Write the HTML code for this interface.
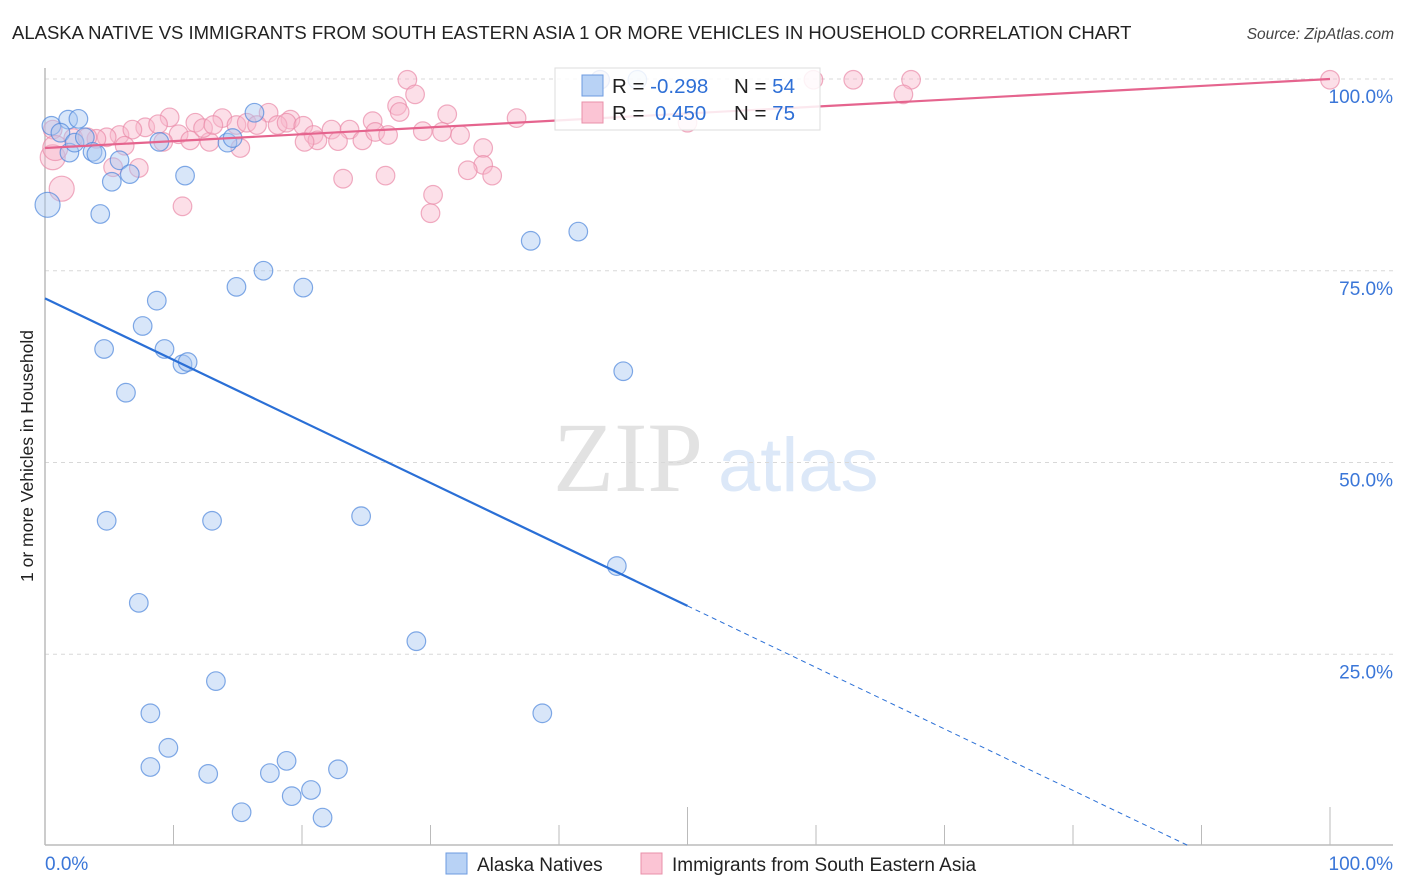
<!DOCTYPE html>
<html><head><meta charset="utf-8">
<style>
body{margin:0;background:#fff;width:1406px;height:892px;overflow:hidden;font-family:"Liberation Sans",sans-serif;}
svg{position:absolute;left:0;top:0;}
</style></head>
<body>
<svg id="chart" width="1406" height="892">
  <text x="12" y="39" font-size="18.5" fill="#222">ALASKA NATIVE VS IMMIGRANTS FROM SOUTH EASTERN ASIA 1 OR MORE VEHICLES IN HOUSEHOLD CORRELATION CHART</text>
  <text x="1394" y="39" font-size="15.5" fill="#444" font-style="italic" text-anchor="end">Source: ZipAtlas.com</text>
  <g>
    <text x="553" y="491" font-family="Liberation Serif,serif" font-size="100" fill="#e2e2e2">ZIP</text>
    <text x="718" y="491" font-size="76" fill="#dce8f8">atlas</text>
  </g>
  <g id="grid"></g>
  <g id="axes"></g>
  <g id="marks"></g>
  <text transform="translate(33,456) rotate(-90)" font-size="17.5" fill="#222" text-anchor="middle">1 or more Vehicles in Household</text>
  <g>
    <rect x="555" y="68" width="265" height="62" fill="#fff" fill-opacity="0.85" stroke="#ddd"/>
    <rect x="582" y="75" width="21" height="21" fill="#b8d2f5" stroke="#6d9be0"/>
    <rect x="582" y="102" width="21" height="21" fill="#fbc4d4" stroke="#e890aa"/>
    <text x="612" y="93" font-size="20.5" fill="#222">R = <tspan fill="#2e6fd6">-0.298</tspan><tspan x="734">N = </tspan><tspan fill="#2e6fd6">54</tspan></text>
    <text x="612" y="120" font-size="20.5" fill="#222">R = <tspan fill="#2e6fd6" x="655">0.450</tspan><tspan x="734">N = </tspan><tspan fill="#2e6fd6">75</tspan></text>
  </g>
  <g>
    <rect x="446" y="853" width="21" height="21" fill="#b8d2f5" stroke="#6d9be0"/>
    <text x="477" y="871" font-size="19" fill="#222">Alaska Natives</text>
    <rect x="641" y="853" width="21" height="21" fill="#fbc4d4" stroke="#e890aa"/>
    <text x="672" y="871" font-size="19" fill="#222">Immigrants from South Eastern Asia</text>
  </g>
</svg>
<script>
const blueX=[0.2,0.5,1.8,2.6,1.2,1.9,2.3,3.1,3.7,4.0,4.3,5.2,5.8,6.6,8.9,10.9,14.2,14.6,16.3,37.8,41.5,14.9,17.0,20.1,8.7,7.6,4.6,9.3,10.7,11.1,6.3,45.0,4.8,13.0,24.6,44.5,7.3,28.9,13.3,8.2,38.7,9.6,8.2,12.7,18.8,17.5,22.8,19.2,20.7,15.3,21.6,46.1,43.2];
const blueY=[83.6,93.9,94.7,94.8,93.0,90.4,91.7,92.4,90.5,90.2,82.4,86.6,89.4,87.6,91.8,87.4,91.7,92.3,95.6,78.9,80.1,72.9,75.0,72.8,71.1,67.8,64.8,64.8,62.8,63.1,59.1,61.9,42.4,42.4,43.0,36.5,31.7,26.7,21.5,17.3,17.3,12.8,10.3,9.4,11.1,9.5,10.0,6.5,7.3,4.4,3.7,99.9,99.9];
const blueBig=[1,0,0,0,0,0,0,0,0,0,0,0,0,0,0,0,0,0,0,0,0,0,0,0,0,0,0,0,0,0,0,0,0,0,0,0,0,0,0,0,0,0,0,0,0,0,0,0,0,0,0,0,0];
const pinkX=[28.2,28.8,27.4,27.6,9.7,11.7,13.8,17.4,19.1,31.3,36.7,25.5,7.8,8.8,5.8,6.8,4.8,4.0,10.4,11.3,12.8,12.3,13.1,14.9,15.7,16.5,18.1,18.8,20.1,20.9,21.2,20.2,22.3,23.7,22.8,24.7,25.7,26.7,29.4,30.9,32.3,34.1,34.1,32.9,34.8,23.2,26.5,30.2,30.0,10.7,7.3,5.3,1.3,0.6,0.6,2.2,3.3,6.2,15.2,9.2,43.2,59.8,62.9,67.4,66.8,50.0,100,0.8];
const pinkY=[99.9,98.0,96.5,95.7,95.0,94.3,94.9,95.6,94.7,95.4,94.9,94.5,93.7,94.1,92.7,93.4,92.4,92.2,92.8,92.0,91.8,93.6,94.0,94.0,94.3,94.0,94.0,94.3,93.9,92.7,92.0,91.8,93.4,93.4,91.9,92.0,93.1,92.7,93.2,93.1,92.7,91.0,88.8,88.1,87.4,87.0,87.4,84.9,82.5,83.4,88.4,88.5,85.7,89.8,93.4,92.3,92.4,91.3,91.0,91.8,99.9,99.9,99.9,99.9,98.0,94.3,99.9,91.0];
const pinkBig=[0,0,0,0,0,0,0,0,0,0,0,0,0,0,0,0,0,0,0,0,0,0,0,0,0,0,0,0,0,0,0,0,0,0,0,0,0,0,0,0,0,0,0,0,0,0,0,0,0,0,0,0,1,1,0,0,0,0,0,0,0,0,0,0,0,0,0,1];
const yTicks=[25,50,75,100];
const yTickLabels=["25.0%","50.0%","75.0%","100.0%"];
const xTicks=[0,10,20,30,40,50,60,70,80,90,100];
const blueTrend=[71.4,-8.8];
const pinkTrend=[91.0,100.0];
const blueSolidEnd=50;

const X0=45,X1=1330,Y0=846,Y1=79;
const sx=v=>X0+(X1-X0)*v/100;
const sy=v=>Y0-(Y0-Y1)*v/100;
const NS="http://www.w3.org/2000/svg";
function mk(tag,parent,attrs){const e=document.createElementNS(NS,tag);for(const k in attrs)e.setAttribute(k,attrs[k]);parent.appendChild(e);return e;}
const grid=document.getElementById('grid'),axes=document.getElementById('axes'),marks=document.getElementById('marks');
yTicks.forEach((t,i)=>{
  const l=mk('line',grid,{x1:X0,x2:1393,y1:sy(t),y2:sy(t),stroke:'#d8d8d8','stroke-dasharray':'4,4'});
  
  
  const tx=mk('text',axes,{x:1393,y:sy(t)+24,'font-size':19,fill:'#3a76d8','text-anchor':'end'});
  tx.textContent=yTickLabels[i];
  
  
});
const al=mk('line',axes,{x1:X0,x2:1393,y1:845,y2:845,stroke:'#bbb','stroke-width':1.5});


const yl=mk('line',axes,{x1:X0,x2:X0,y1:68,y2:845,stroke:'#bbb','stroke-width':1.5});


xTicks.forEach(t=>{
  if(t===0)return;
  const tk=mk('line',axes,{x1:sx(t),x2:sx(t),y1:(t%50===0)?807:825,y2:845,stroke:'#bbb'});
  
  
});
const xl0=mk('text',axes,{x:45,y:870,'font-size':19,fill:'#3a76d8'});xl0.textContent='0.0%';


const xl1=mk('text',axes,{x:1393,y:870,'font-size':19,fill:'#3a76d8','text-anchor':'end'});xl1.textContent='100.0%';



function pts(xs,ys,big,fill,stroke,name){
  xs.forEach((x,i)=>{
    const c=mk('circle',marks,{cx:sx(x),cy:sy(ys[i]),r:big[i]?12.5:9.3,fill:fill,'fill-opacity':0.45,stroke:stroke,'stroke-opacity':0.7,'stroke-width':1.2});
    
    
  });
}
pts(pinkX,pinkY,pinkBig,'#f9b8cb','#e98aa8','point-immigrants');
pts(blueX,blueY,blueBig,'#a9c8f2','#4d86dc','point-alaska-natives');
const by=x=>blueTrend[0]+(blueTrend[1]-blueTrend[0])*x/100;
const bl=mk('line',marks,{x1:sx(0),y1:sy(by(0)),x2:sx(blueSolidEnd),y2:sy(by(blueSolidEnd)),stroke:'#2a6fd6','stroke-width':2.2});


const xEnd=(0-blueTrend[0])/(blueTrend[1]-blueTrend[0])*100;
const bd=mk('line',marks,{x1:sx(blueSolidEnd),y1:sy(by(blueSolidEnd)),x2:sx(xEnd),y2:sy(0),stroke:'#2a6fd6','stroke-width':1,'stroke-dasharray':'5,4'});


const pl=mk('line',marks,{x1:sx(0),y1:sy(pinkTrend[0]),x2:sx(100),y2:sy(pinkTrend[1]),stroke:'#e5648e','stroke-width':2.2});


</script>
</body></html>
